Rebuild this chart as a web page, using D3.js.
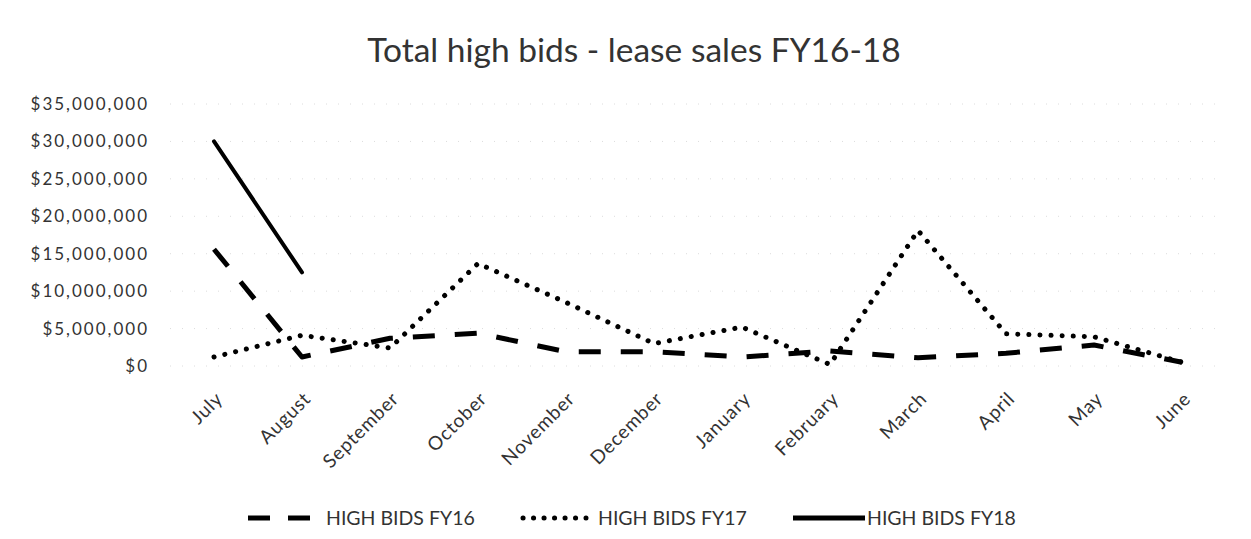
<!DOCTYPE html>
<html>
<head>
<meta charset="utf-8">
<script src="https://cdn.jsdelivr.net/npm/d3@7"></script>
<style>
  body { margin: 0; background: #fff; }
  text { font-family: Lato, "Open Sans", sans-serif; fill: #333; }
</style>
</head>
<body>
<script>
var months = ["July", "August", "September", "October", "November", "December",
    "January", "February", "March", "April", "May", "June"];
var fy16 = [15600000, 1200000, 3700000, 4400000, 1900000, 1900000,
    1200000, 2000000, 1100000, 1700000, 2800000, 500000];
var fy17 = [1200000, 4100000, 2400000, 13700000, 8500000, 3000000,
    5200000, 200000, 18100000, 4300000, 3900000, 500000];
var fy18 = [30000000, 12500000];
var yTicks = [0, 5000000, 10000000, 15000000, 20000000, 25000000, 30000000, 35000000];
var seriesNames = ["HIGH BIDS FY16", "HIGH BIDS FY17", "HIGH BIDS FY18"];

var width = 1251, height = 539;
var margin = { top: 104, right: 25, bottom: 173, left: 170 };

var svg = d3.select("body").append("svg")
    .attr("width", width)
    .attr("height", height);

var x = d3.scalePoint().domain(months)
    .range([margin.left + 44, width - margin.right - 44]);
var y = d3.scaleLinear().domain([0, 35000000])
    .range([height - margin.bottom, margin.top]);

// faint gridlines
svg.append("g").selectAll("line")
    .data(yTicks)
    .enter().append("line")
    .attr("x1", margin.left)
    .attr("x2", width - margin.right)
    .attr("y1", function (d) { return y(d); })
    .attr("y2", function (d) { return y(d); })
    .attr("stroke", "#dcdcdc")
    .attr("stroke-width", 1)
    .attr("stroke-dasharray", "1,11");

// y axis labels
var fmt = d3.format("$,");
svg.append("g").selectAll("text")
    .data(yTicks)
    .enter().append("text")
    .attr("x", 149)
    .attr("y", function (d) { return y(d); })
    .attr("dy", "0.35em")
    .attr("text-anchor", "end")
    .style("font-size", "17px")
    .style("letter-spacing", "2px")
    .text(function (d) { return fmt(d); });

// x labels
svg.append("g").selectAll("text")
    .data(months)
    .enter().append("text")
    .attr("transform", function (d) {
        return "translate(" + (x(d) + 10) + "," + 400 + ") rotate(-45)";
    })
    .attr("text-anchor", "end")
    .style("font-size", "19px")
    .style("letter-spacing", "0.8px")
    .text(function (d) { return d; });

var line = d3.line()
    .x(function (d, i) { return x(months[i]); })
    .y(function (d) { return y(d); });

var styles = [
    { data: fy16, dash: "22,20", cap: "butt", w: 5 },
    { data: fy17, dash: "0.1,11", cap: "round", w: 5 },
    { data: fy18, dash: null, cap: "round", w: 4 }
];

svg.append("g").selectAll("path")
    .data(styles)
    .enter().append("path")
    .attr("d", function (d) { return line(d.data); })
    .attr("fill", "none")
    .attr("stroke", "#000")
    .attr("stroke-width", function (d) { return d.w; })
    .attr("stroke-linecap", function (d) { return d.cap; })
    .attr("stroke-linejoin", "round")
    .attr("stroke-dasharray", function (d) { return d.dash; });

// title
svg.append("text")
    .attr("x", 634)
    .attr("y", 62)
    .attr("text-anchor", "middle")
    .style("font-size", "33.5px")
    .text("Total high bids - lease sales FY16-18");

// legend
var legend = [
    { x1: 248, x2: 312, tx: 326, dash: "22,18", cap: "butt", w: 5 },
    { x1: 523, x2: 586, tx: 598, dash: "0.1,10.4", cap: "round", w: 5 },
    { x1: 793, x2: 865, tx: 867, dash: null, cap: "butt", w: 5 }
];
var lg = svg.append("g").selectAll("g")
    .data(legend)
    .enter().append("g");
lg.append("line")
    .attr("x1", function (d) { return d.x1; })
    .attr("x2", function (d) { return d.x2; })
    .attr("y1", 518)
    .attr("y2", 518)
    .attr("stroke", "#000")
    .attr("stroke-width", function (d) { return d.w; })
    .attr("stroke-linecap", function (d) { return d.cap; })
    .attr("stroke-dasharray", function (d) { return d.dash; });
lg.append("text")
    .attr("x", function (d) { return d.tx; })
    .attr("y", 518)
    .attr("dy", "0.35em")
    .style("font-size", "19.5px")
    .text(function (d, i) { return seriesNames[i]; });
</script>
</body>
</html>
